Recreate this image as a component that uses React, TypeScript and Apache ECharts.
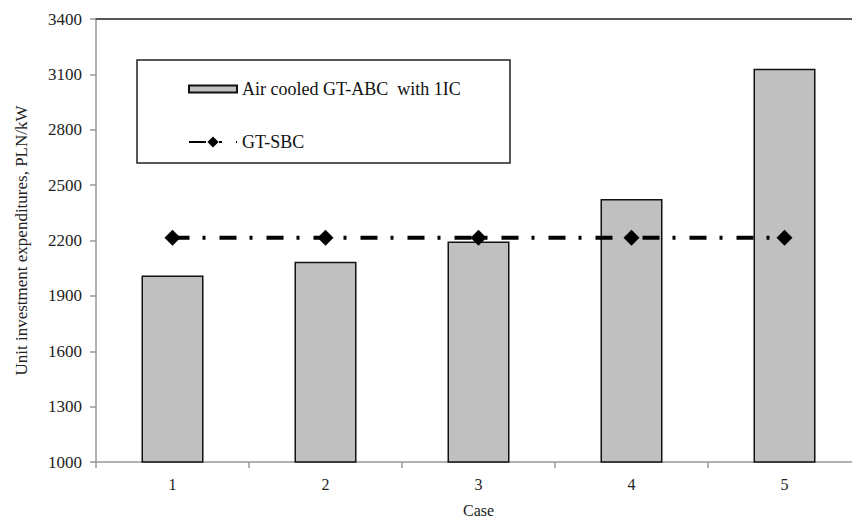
import React, { useEffect, useRef } from "react";
import * as echarts from "echarts";

const categories = ["1", "2", "3", "4", "5"];
const abcValues = [2010, 2085, 2195, 2425, 3130];
const sbcValues = [2215, 2215, 2215, 2215, 2215];
const abcName = "Air cooled GT-ABC  with 1IC";
const sbcName = "GT-SBC";

const FONT = "'Liberation Serif', 'DejaVu Serif', serif";

export default function App() {
  const ref = useRef<HTMLDivElement>(null);
  useEffect(() => {
    document.body.style.margin = "0";
    if (!ref.current) return;
    const chart = echarts.init(ref.current, null, { renderer: "svg" });
    chart.setOption({
      animation: false,
      backgroundColor: "#fff",
      grid: {
        left: 96,
        top: 19,
        width: 765,
        height: 443,
        containLabel: false,
        outerBoundsMode: "none",
      },
      graphic: [
        {
          type: "rect",
          shape: { x: 137, y: 60, width: 373, height: 103 },
          style: { fill: "none", stroke: "#222", lineWidth: 1.5 },
          z: 1,
        },
      ],
      legend: [
        {
          data: [{ name: abcName, icon: "rect" }],
          left: 183,
          top: 75,
          itemWidth: 48,
          itemHeight: 7,
          selectedMode: false,
          textStyle: { fontFamily: FONT, fontSize: 18, color: "#111" },
        },
        {
          data: [{ name: sbcName }],
          left: 183,
          top: 128,
          itemWidth: 48,
          itemHeight: 14,
          selectedMode: false,
          textStyle: { fontFamily: FONT, fontSize: 18, color: "#111" },
        },
      ],
      xAxis: [
        {
          type: "category",
          data: categories,
          boundaryGap: true,
          name: "Case",
          nameLocation: "middle",
          nameGap: 40,
          nameTextStyle: { fontFamily: FONT, fontSize: 16, color: "#222" },
          axisLine: { show: true, lineStyle: { color: "#999", width: 1.5 } },
          axisTick: {
            show: true,
            alignWithLabel: false,
            interval: 0,
            length: 6,
            lineStyle: { color: "#999", width: 1.5 },
          },
          axisLabel: { fontFamily: FONT, fontSize: 16, color: "#222", margin: 14 },
          splitLine: { show: false },
        },
        {
          type: "category",
          data: categories,
          position: "top",
          axisLine: { show: true, lineStyle: { color: "#555", width: 2 } },
          axisTick: { show: false },
          axisLabel: { show: false },
          splitLine: { show: false },
        },
      ],
      yAxis: {
        type: "value",
        min: 1000,
        max: 3400,
        interval: 300,
        name: "Unit investment expenditures, PLN/kW",
        nameLocation: "middle",
        nameRotate: 90,
        nameGap: 66,
        nameTextStyle: { fontFamily: FONT, fontSize: 17, color: "#222" },
        axisLine: { show: true, lineStyle: { color: "#999", width: 1.5 } },
        axisTick: { show: true, length: 6, lineStyle: { color: "#999", width: 1.5 } },
        axisLabel: {
          fontFamily: FONT,
          fontSize: 17,
          color: "#222",
          margin: 14,
          formatter: (v: number) => String(v),
        },
        splitLine: { show: false },
      },
      series: [
        {
          name: abcName,
          type: "bar",
          xAxisIndex: 0,
          data: abcValues,
          barWidth: 62,
          itemStyle: { color: "#C0C0C0", borderColor: "#111", borderWidth: 1.5 },
          z: 2,
        },
        {
          name: sbcName,
          type: "line",
          xAxisIndex: 0,
          data: sbcValues,
          symbol: "diamond",
          symbolSize: 16,
          itemStyle: { color: "#000" },
          lineStyle: { color: "#000", width: 4, type: [17, 13, 3, 14], cap: "butt" },
          z: 3,
        },
      ],
    });
    return () => chart.dispose();
  }, []);
  return <div ref={ref} style={{ width: 852, height: 520 }} />;
}
